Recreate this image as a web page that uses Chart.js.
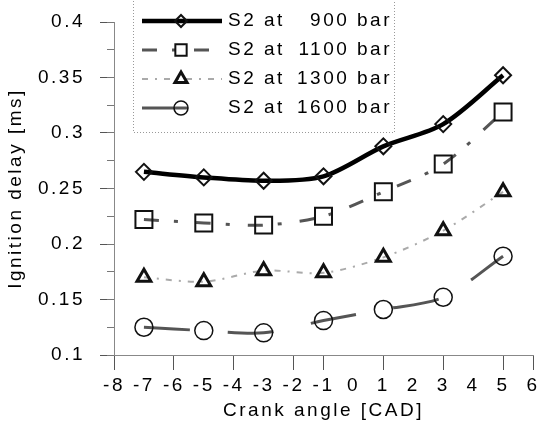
<!DOCTYPE html>
<html lang="en">

<head>
    <meta charset="UTF-8">
    <title>Ignition delay</title>
    <script src="https://cdn.jsdelivr.net/npm/chart.js"></script>
    <style>
        body { margin: 0; background: #fff; overflow: hidden; }
    </style>
</head>

<body>
    <div style="width: 547px; height: 437px;">
        <canvas id="myChart"></canvas>
    </div>
    <script>
        // measured points, crank angle vs ignition delay
        const crankAngle = [-7, -5, -3, -1, 1, 3, 5];
        const pressures = [900, 1100, 1300, 1600];
        const delay900 = [0.265, 0.260, 0.257, 0.261, 0.288, 0.308, 0.352];
        const delay1100 = [0.222, 0.219, 0.217, 0.225, 0.247, 0.272, 0.319];
        const delay1300 = [0.170, 0.166, 0.176, 0.174, 0.188, 0.212, 0.247];
        const delay1600 = [0.125, 0.122, 0.120, 0.131, 0.141, 0.152, 0.189];
        const xTickMarks = [-8, -6, -4, -2, -1, 1, 3, 5, 6];

        const FONT = '"Liberation Sans", Arial, sans-serif';
        const SPACING = '2.5px';
        const TEXT = '#000';

        const styles = [
            { line: '#000', width: 4.5, dash: [], point: 'rectRot', r: 8, pw: 2, lr: 6 },
            { line: '#555', width: 3, dash: [15, 15, 4, 18], point: 'rect', r: 12, pw: 2, lr: 8 },
            { line: '#aaa', width: 2, dash: [6, 7, 2, 7], point: 'triangle', r: 8, pw: 3, lr: 7 },
            { line: '#555', width: 3, dash: [46, 38], point: 'circle', r: 9, pw: 1.5, lr: 7 },
        ];
        const series = [delay900, delay1100, delay1300, delay1600];

        function toPoints(arr) {
            return arr.map((v, i) => ({ x: crankAngle[i], y: v }));
        }

        const datasets = series.map((arr, i) => {
            const s = styles[i];
            return {
                label: 'S2 at ' + pressures[i] + ' bar',
                data: toPoints(arr),
                borderColor: s.line,
                borderWidth: s.width,
                borderDash: s.dash,
                tension: 0.3,
                pointStyle: s.point,
                pointRadius: s.r,
                pointBorderWidth: s.pw,
                pointBorderColor: '#111',
                pointBackgroundColor: 'rgba(0,0,0,0)',
            };
        });

        // boxed legend with line sample + marker, top left of plot
        const legendBox = {
            id: 'legendBox',
            afterDraw(chart) {
                const ctx = chart.ctx;
                ctx.save();
                ctx.letterSpacing = SPACING;
                ctx.strokeStyle = '#999';
                ctx.lineWidth = 1;
                ctx.setLineDash([1, 2]);
                ctx.beginPath();
                ctx.moveTo(133.5, 1);
                ctx.lineTo(133.5, 132.5);
                ctx.lineTo(394.5, 132.5);
                ctx.lineTo(394.5, 1);
                ctx.stroke();

                const rows = [21, 50, 79, 108];
                chart.data.datasets.forEach((ds, i) => {
                    const s = styles[i];
                    const y = rows[i];
                    ctx.setLineDash(s.dash);
                    ctx.strokeStyle = s.line;
                    ctx.lineWidth = s.width;
                    ctx.beginPath();
                    ctx.moveTo(142, y);
                    ctx.lineTo(222, y);
                    ctx.stroke();
                    ctx.setLineDash([]);
                    ctx.strokeStyle = '#111';
                    ctx.fillStyle = 'rgba(0,0,0,0)';
                    ctx.lineWidth = s.pw;
                    Chart.helpers.drawPoint(ctx, { pointStyle: s.point, radius: s.lr, rotation: 0, borderWidth: s.pw }, 181, y);

                    ctx.fillStyle = TEXT;
                    ctx.font = '19px ' + FONT;
                    ctx.textBaseline = 'middle';
                    ctx.textAlign = 'left';
                    ctx.fillText('S2 at', 228, y);
                    ctx.textAlign = 'right';
                    ctx.fillText(pressures[i] + ' bar', 392, y);
                });
                ctx.restore();
            }
        };

        const spacingPlugin = {
            id: 'spacing',
            beforeLayout(chart) { chart.ctx.letterSpacing = SPACING; },
            beforeDraw(chart) { chart.ctx.letterSpacing = SPACING; },
        };

        const tickFont = { family: FONT, size: 19 };

        new Chart(document.getElementById('myChart'), {
            type: 'line',
            data: { datasets: datasets },
            plugins: [spacingPlugin, legendBox],
            options: {
                responsive: true,
                maintainAspectRatio: false,
                animation: false,
                layout: { padding: { top: 22, right: 0, bottom: 0, left: 0 } },
                plugins: {
                    legend: { display: false },
                    tooltip: { enabled: false },
                },
                scales: {
                    x: {
                        type: 'linear',
                        min: -8,
                        max: 6,
                        ticks: { stepSize: 1, color: TEXT, font: tickFont, padding: 4, maxRotation: 0, autoSkip: false },
                        grid: {
                            drawOnChartArea: false,
                            tickLength: 15,
                            tickColor: (c) => xTickMarks.includes(c.tick.value) ? '#555' : 'rgba(0,0,0,0)',
                        },
                        border: { color: '#888', dash: [1, 2] },
                        title: { display: true, text: 'Crank angle [CAD]', color: TEXT, font: tickFont, padding: { top: 0, bottom: 15 } },
                        afterFit(scale) {
                            scale.height = 82;
                            scale.paddingLeft = 0;
                            scale.paddingRight = 0;
                        },
                    },
                    y: {
                        min: 0.1,
                        max: 0.4,
                        weight: 1,
                        ticks: {
                            stepSize: 0.05, color: TEXT, font: tickFont, padding: 15,
                            callback: (v) => String(+v.toFixed(2)),
                        },
                        grid: { drawOnChartArea: false, tickLength: 14, tickColor: '#555' },
                        border: { color: '#888', dash: [1, 2] },
                        title: { display: true, text: 'Ignition delay [ms]', color: TEXT, font: tickFont, padding: { top: 4, bottom: 0 } },
                        afterFit(scale) {
                            scale.width = 114;
                            scale.paddingTop = 0;
                            scale.paddingBottom = 0;
                        },
                    },
                    // minor ticks halfway between labelled ones
                    yMinor: {
                        position: 'left',
                        min: 0.1,
                        max: 0.4,
                        weight: 0,
                        ticks: { stepSize: 0.025, display: false },
                        grid: { drawOnChartArea: false, tickLength: 7, tickColor: '#777' },
                        border: { display: false },
                        afterFit(scale) {
                            scale.width = 0;
                            scale.paddingTop = 0;
                            scale.paddingBottom = 0;
                        },
                    },
                },
            },
        });
    </script>
</body>

</html>
